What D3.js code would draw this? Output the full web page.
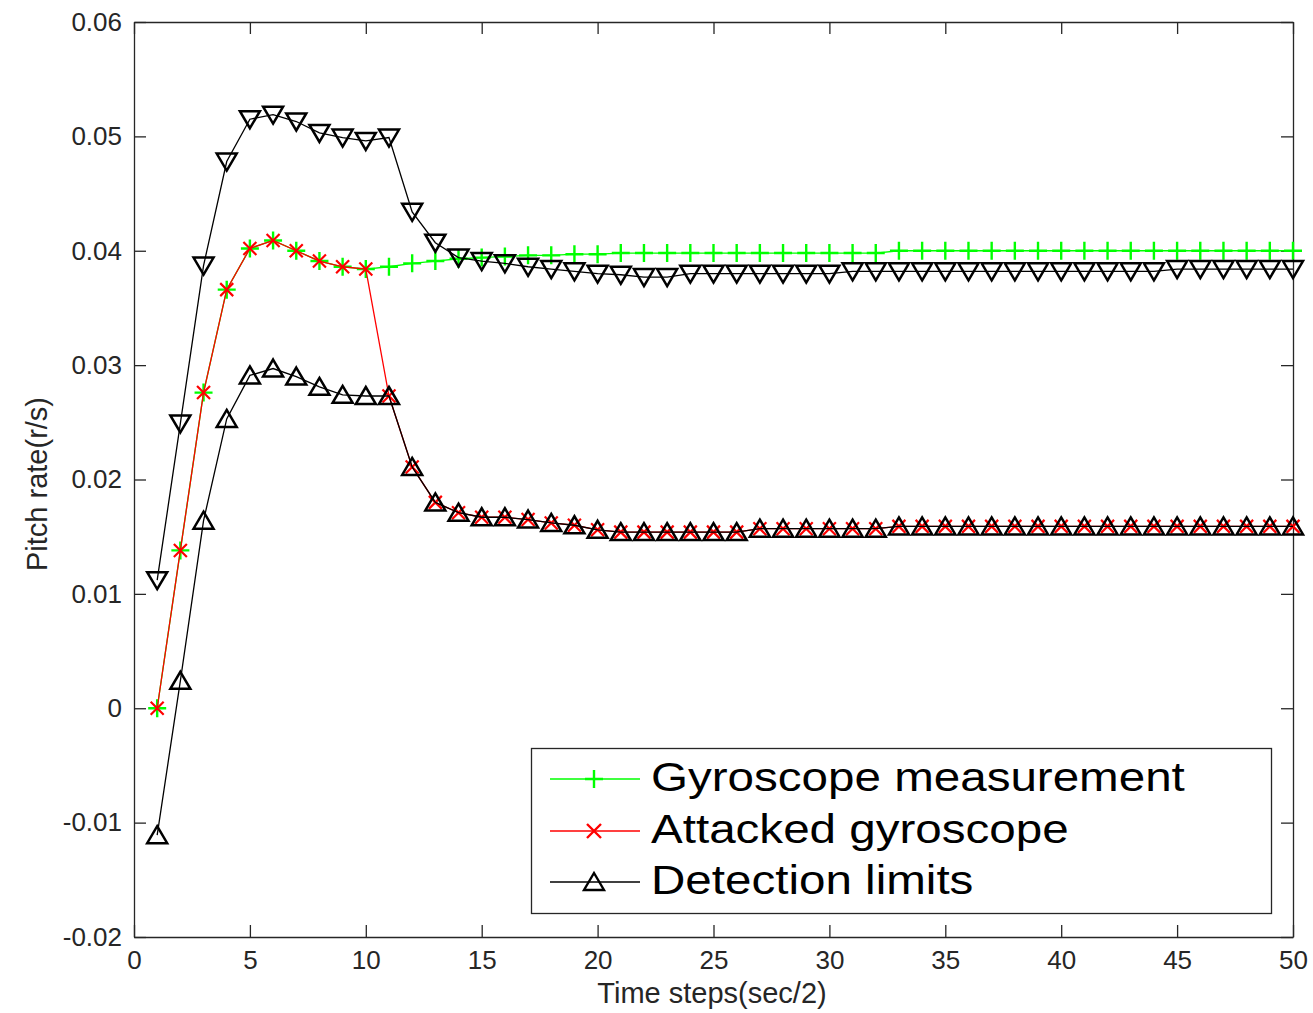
<!DOCTYPE html>
<meta charset="utf-8">
<style>
  body { margin: 0; background: #fff; }
  svg { display: block; font-family: "Liberation Sans", Arial, sans-serif; }
  .axis text { font-size: 26px; fill: #262626; }
  .axis line, .axis path { stroke: #262626; stroke-width: 1.3; }
  .series { fill: none; stroke-width: 1.3; }
  .marker { fill: none; }
</style>
<body>
<div id="chart"></div>
<script src="https://cdnjs.cloudflare.com/ajax/libs/d3/7.8.5/d3.min.js"></script>
<script>
// time steps (x values)
const steps = [1,2,3,4,5,6,7,8,9,10,11,12,13,14,15,16,17,18,19,20,21,22,23,24,25,
  26,27,28,29,30,31,32,33,34,35,36,37,38,39,40,41,42,43,44,45,46,47,48,49,50];

const gyro = [0.0000,0.0138,0.0276,0.0366,0.0402,0.0409,0.0400,0.0391,0.0386,0.0384,
  0.0386,0.0389,0.0391,0.0393,0.0394,0.0395,0.0396,0.0396,0.0397,0.0397,
  0.0398,0.0398,0.0398,0.0398,0.0398,0.0398,0.0398,0.0398,0.0398,0.0398,
  0.0398,0.0398,0.0400,0.0400,0.0400,0.0400,0.0400,0.0400,0.0400,0.0400,
  0.0400,0.0400,0.0400,0.0400,0.0400,0.0400,0.0400,0.0400,0.0400,0.0400];

const attacked = [0.0000,0.0138,0.0276,0.0366,0.0402,0.0409,0.0400,0.0391,0.0386,0.0384,
  0.0273,0.0211,0.0180,0.0171,0.0167,0.0167,0.0165,0.0162,0.0160,0.0156,
  0.0154,0.0154,0.0154,0.0154,0.0154,0.0154,0.0157,0.0157,0.0157,0.0157,
  0.0157,0.0157,0.0159,0.0159,0.0159,0.0159,0.0159,0.0159,0.0159,0.0159,
  0.0159,0.0159,0.0159,0.0159,0.0159,0.0159,0.0159,0.0159,0.0159,0.0159];

const lowerLimit = [-0.0111,0.0024,0.0164,0.0253,0.0291,0.0297,0.0290,0.0281,0.0274,0.0273,
  0.0273,0.0211,0.0180,0.0171,0.0167,0.0167,0.0165,0.0162,0.0160,0.0156,
  0.0154,0.0154,0.0154,0.0154,0.0154,0.0154,0.0157,0.0157,0.0157,0.0157,
  0.0157,0.0157,0.0159,0.0159,0.0159,0.0159,0.0159,0.0159,0.0159,0.0159,
  0.0159,0.0159,0.0159,0.0159,0.0159,0.0159,0.0159,0.0159,0.0159,0.0159];

const upperLimit = [0.0112,0.0249,0.0387,0.0478,0.0515,0.0519,0.0513,0.0503,0.0499,0.0496,
  0.0499,0.0434,0.0407,0.0394,0.0391,0.0389,0.0386,0.0384,0.0382,0.0380,
  0.0379,0.0377,0.0377,0.0380,0.0380,0.0380,0.0380,0.0380,0.0380,0.0380,
  0.0382,0.0382,0.0382,0.0382,0.0382,0.0382,0.0382,0.0382,0.0382,0.0382,
  0.0382,0.0382,0.0382,0.0382,0.0384,0.0384,0.0384,0.0384,0.0384,0.0384];

const xTicks = [0,5,10,15,20,25,30,35,40,45,50];
const yTicks = [-0.02,-0.01,0,0.01,0.02,0.03,0.04,0.05,0.06];
const yTickLabels = ["-0.02","-0.01","0","0.01","0.02","0.03","0.04","0.05","0.06"];

const legendLabels = ["Gyroscope measurement","Attacked gyroscope","Detection limits"];

const width = 1313, height = 1013;
const margin = { top: 22, right: 20, bottom: 76, left: 134 };

const svg = d3.select("#chart").append("svg")
  .attr("width", width)
  .attr("height", height);

const x = d3.scaleLinear().domain([0, 50]).range([margin.left, width - margin.right]);
const y = d3.scaleLinear().domain([-0.02, 0.06]).range([height - margin.bottom, margin.top]);

// axes, ticks pointing inward like matlab box
const tickLen = 12;
svg.append("g").attr("class", "axis")
  .attr("transform", `translate(0,${y(-0.02)})`)
  .call(d3.axisBottom(x).tickValues(xTicks).tickSizeInner(-tickLen).tickSizeOuter(0).tickPadding(14));
svg.append("g").attr("class", "axis")
  .attr("transform", `translate(0,${y(0.06)})`)
  .call(d3.axisTop(x).tickValues(xTicks).tickSizeInner(-tickLen).tickSizeOuter(0).tickFormat(""));
svg.append("g").attr("class", "axis")
  .attr("transform", `translate(${x(0)},0)`)
  .call(d3.axisLeft(y).tickValues(yTicks).tickSizeInner(-tickLen).tickSizeOuter(0).tickPadding(12)
    .tickFormat((d, i) => yTickLabels[i]));
svg.append("g").attr("class", "axis")
  .attr("transform", `translate(${x(50)},0)`)
  .call(d3.axisRight(y).tickValues(yTicks).tickSizeInner(-tickLen).tickSizeOuter(0).tickFormat(""));

svg.selectAll(".axis .tick text").attr("font-family", "Liberation Sans, Arial, sans-serif");

// axis labels
svg.append("text")
  .attr("x", 712)
  .attr("y", 1003)
  .attr("text-anchor", "middle")
  .attr("font-size", 29)
  .attr("fill", "#262626")
  .text("Time steps(sec/2)");

svg.append("text")
  .attr("transform", `translate(47,484) rotate(-90)`)
  .attr("text-anchor", "middle")
  .attr("font-size", 29)
  .attr("fill", "#262626")
  .text("Pitch rate(r/s)");

// marker shapes
const markerPaths = {
  plus: "M-9,0H9M0,-9V9",
  cross: "M-6.5,-6.5L6.5,6.5M-6.5,6.5L6.5,-6.5",
  up: "M0,-9L10,8L-10,8Z",
  down: "M0,9L10,-8L-10,-8Z"
};

const line = d3.line().x((d, i) => x(steps[i])).y(d => y(d));

function drawSeries(values, color, marker, markerWidth) {
  const g = svg.append("g");
  g.append("path")
    .datum(values)
    .attr("class", "series")
    .attr("stroke", color)
    .attr("d", line);
  g.selectAll("path.marker")
    .data(values)
    .join("path")
    .attr("class", "marker")
    .attr("stroke", color)
    .attr("stroke-width", markerWidth)
    .attr("transform", (d, i) => `translate(${x(steps[i])},${y(d)})`)
    .attr("d", markerPaths[marker]);
}

drawSeries(gyro, "#00ff00", "plus", 2.4);
drawSeries(attacked, "#ff0000", "cross", 2.2);
drawSeries(upperLimit, "#000000", "down", 2.5);
drawSeries(lowerLimit, "#000000", "up", 2.5);

// legend
const legend = svg.append("g");
legend.append("rect")
  .attr("x", 531.5).attr("y", 748.5)
  .attr("width", 740).attr("height", 165)
  .attr("fill", "#fff")
  .attr("stroke", "#262626")
  .attr("stroke-width", 1.3);

const legendColors = ["#00ff00", "#ff0000", "#000000"];
const legendMarkers = [
  "M-9,0H9M0,-9V9",
  "M-7,-7L7,7M-7,7L7,-7",
  "M0,-9L10,8L-10,8Z"
];
const rowY = [779, 831, 882];

legendLabels.forEach((label, i) => {
  const row = legend.append("g").attr("transform", `translate(0,${rowY[i]})`);
  row.append("line")
    .attr("x1", 550).attr("x2", 640)
    .attr("stroke", legendColors[i]).attr("stroke-width", 1.3);
  row.append("path")
    .attr("transform", "translate(594,0)")
    .attr("d", legendMarkers[i])
    .attr("fill", "none")
    .attr("stroke", legendColors[i])
    .attr("stroke-width", 2.4);
  row.append("text")
    .attr("transform", "translate(651,12) scale(1.16,1)")
    .attr("font-size", 41)
    .attr("fill", "#000")
    .text(label);
});
</script>
</body>
</html>
